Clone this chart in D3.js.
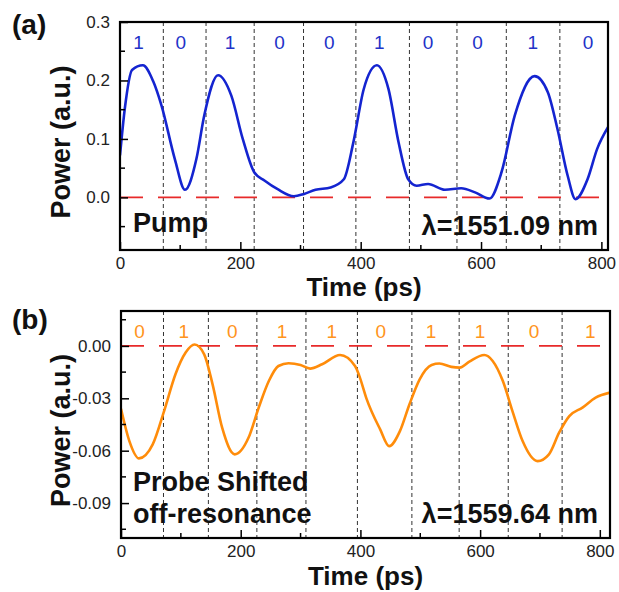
<!DOCTYPE html>
<html>
<head>
<meta charset="utf-8">
<script src="https://cdn.jsdelivr.net/npm/d3@7"></script>
<style>
  html, body { margin: 0; padding: 0; background: #ffffff; }
  svg { display: block; }
</style>
</head>
<body>
<svg id="chart" width="619" height="592"></svg>
<script>
// ---- Pump trace (panel a) ----
const pumpTime  = [0, 8, 20, 38, 55, 69, 91, 108, 127, 140, 163, 185, 204, 223, 240, 262, 289, 306, 325, 350, 372, 388, 405, 427, 446, 463, 479, 493, 512, 540, 567, 590, 614, 634, 656, 689, 711, 727, 744, 757, 777, 793, 811];
const pumpPower = [0.072, 0.152, 0.218, 0.226, 0.199, 0.157, 0.066, 0.013, 0.066, 0.140, 0.209, 0.174, 0.100, 0.043, 0.029, 0.014, 0.002, 0.006, 0.013, 0.017, 0.031, 0.095, 0.185, 0.226, 0.186, 0.094, 0.031, 0.020, 0.023, 0.013, 0.0155, 0.0086, -0.002, 0.043, 0.140, 0.2075, 0.180, 0.117, 0.037, -0.003, 0.031, 0.083, 0.120];
const pumpBits      = ["1", "0", "1", "0", "0", "1", "0", "0", "1", "0"];
const pumpBitCenters = [31, 101, 183, 265, 348, 431, 512, 594, 686, 778];
const pumpSlotEdges  = [72, 143, 223, 305, 392, 481, 560, 642, 731];
const pumpYTicks     = [0.0, 0.1, 0.2, 0.3];
const pumpYMinor     = [-0.05, 0.05, 0.15, 0.25];

// ---- Probe trace (panel b) ----
const probeTime  = [0, 14, 30, 53, 72, 91, 108, 123, 139, 153, 169, 190, 213, 230, 247, 263, 280, 300, 316, 336, 366, 391, 398, 410, 433, 448, 466, 482, 499, 519, 532, 552, 566, 582, 607, 621, 638, 654, 671, 696, 715, 732, 749, 771, 793, 817];
const probePower = [-0.036, -0.0545, -0.0644, -0.0564, -0.0373, -0.0162, -0.0038, 0.0008, -0.0048, -0.022, -0.0468, -0.0621, -0.0526, -0.0354, -0.0201, -0.0115, -0.0099, -0.0109, -0.013, -0.0105, -0.0052, -0.0115, -0.017, -0.030, -0.0478, -0.0574, -0.0488, -0.0334, -0.0191, -0.0109, -0.0101, -0.012, -0.0124, -0.009, -0.0052, -0.0086, -0.0201, -0.0373, -0.0545, -0.066, -0.0621, -0.0497, -0.0402, -0.0353, -0.0296, -0.0267];
const probeBits      = ["0", "1", "0", "1", "1", "0", "1", "1", "0", "1"];
const probeBitCenters = [31, 105, 186, 269, 352, 434, 518, 600, 690, 784];
const probeSlotEdges  = [71, 146, 227, 309, 395, 486, 565, 647, 737];
const probeYTicks     = [0.00, -0.03, -0.06, -0.09];
const probeYMinor     = [0.015, -0.015, -0.045, -0.075, -0.105];

// Shared time axis ticks
const timeTicks = [0, 200, 400, 600, 800];
const timeMinor = [100, 300, 500, 700];

const FONT = "'Liberation Sans', Arial, Helvetica, sans-serif";
const svg = d3.select("#chart");

const panels = [
  {
    id: "a", tag: "(a)", tagY: 34,
    box: { left: 120, right: 608, top: 22, bottom: 250 },
    xMax: 811, yDomain: [-0.09, 0.3],
    time: pumpTime, power: pumpPower,
    color: "#1424d0", bitColor: "#2232c8",
    bits: pumpBits, bitX: pumpBitCenters, edges: pumpSlotEdges,
    yTicks: pumpYTicks, yMinor: pumpYMinor, yFmt: d3.format(".1f"),
    notes: [
      { text: "Pump", x: 133, y: 232, anchor: "start" },
      { text: "λ=1551.09 nm", x: 598, y: 235, anchor: "end" }
    ],
    xTitleY: 296
  },
  {
    id: "b", tag: "(b)", tagY: 329,
    box: { left: 121, right: 610, top: 311, bottom: 538 },
    xMax: 817, yDomain: [-0.11, 0.02],
    time: probeTime, power: probePower,
    color: "#ff8c0a", bitColor: "#ff9420",
    bits: probeBits, bitX: probeBitCenters, edges: probeSlotEdges,
    yTicks: probeYTicks, yMinor: probeYMinor,
    yFmt: v => d3.format(".2f")(v).replace("\u2212", "-"),
    notes: [
      { text: "Probe Shifted", x: 133, y: 491, anchor: "start" },
      { text: "off-resonance", x: 133, y: 523, anchor: "start" },
      { text: "λ=1559.64 nm", x: 598, y: 523, anchor: "end" }
    ],
    xTitleY: 585
  }
];

panels.forEach(p => {
  const b = p.box;
  const x = d3.scaleLinear().domain([0, p.xMax]).range([b.left, b.right]);
  const y = d3.scaleLinear().domain(p.yDomain).range([b.bottom, b.top]);
  const g = svg.append("g").attr("class", "panel-" + p.id);

  g.append("clipPath").attr("id", "clip-" + p.id)
    .append("rect")
    .attr("x", b.left).attr("y", b.top)
    .attr("width", b.right - b.left).attr("height", b.bottom - b.top);

  // bit-slot boundaries
  g.append("g").selectAll("line").data(p.edges).join("line")
    .attr("x1", d => x(d)).attr("x2", d => x(d))
    .attr("y1", b.top).attr("y2", b.bottom)
    .attr("stroke", "#333").attr("stroke-width", 1)
    .attr("stroke-dasharray", "4,3");

  // zero reference
  g.append("line")
    .attr("x1", b.left).attr("x2", b.right)
    .attr("y1", y(0)).attr("y2", y(0))
    .attr("stroke", "#e82a2a").attr("stroke-width", 1.6)
    .attr("stroke-dasharray", "23,15");

  // trace
  const pts = p.time.map((t, i) => [t, p.power[i]]);
  g.append("path").datum(pts)
    .attr("clip-path", "url(#clip-" + p.id + ")")
    .attr("fill", "none")
    .attr("stroke", p.color).attr("stroke-width", 2.6)
    .attr("stroke-linejoin", "round")
    .attr("d", d3.line().x(d => x(d[0])).y(d => y(d[1])).curve(d3.curveMonotoneX));

  // bit labels
  g.append("g").selectAll("text").data(p.bits).join("text")
    .attr("x", (d, i) => x(p.bitX[i]))
    .attr("y", b.top + 27)
    .attr("text-anchor", "middle")
    .attr("font-family", FONT).attr("font-size", 19)
    .attr("fill", p.bitColor)
    .text(d => d);

  // x axis (ticks point inward)
  const xAxis = g.append("g").attr("transform", `translate(0,${b.bottom})`)
    .call(d3.axisBottom(x).tickValues(timeTicks).tickSize(-8).tickPadding(7).tickFormat(d3.format("d")));
  xAxis.append("g").selectAll("line").data(timeMinor).join("line")
    .attr("x1", d => x(d)).attr("x2", d => x(d)).attr("y1", 0).attr("y2", -5)
    .attr("stroke", "#000").attr("stroke-width", 1.5);

  // y axis
  const yAxis = g.append("g").attr("transform", `translate(${b.left},0)`)
    .call(d3.axisLeft(y).tickValues(p.yTicks).tickSize(-8).tickPadding(10).tickFormat(p.yFmt));
  yAxis.append("g").selectAll("line").data(p.yMinor).join("line")
    .attr("y1", d => y(d)).attr("y2", d => y(d)).attr("x1", 0).attr("x2", 5)
    .attr("stroke", "#000").attr("stroke-width", 1.5);

  [xAxis, yAxis].forEach(a => {
    a.select(".domain").remove();
    a.selectAll(".tick line").attr("stroke", "#000").attr("stroke-width", 1.5);
    a.selectAll(".tick text").attr("font-family", FONT).attr("font-size", 17).attr("fill", "#222");
  });

  // frame
  g.append("rect")
    .attr("x", b.left).attr("y", b.top)
    .attr("width", b.right - b.left).attr("height", b.bottom - b.top)
    .attr("fill", "none").attr("stroke", "#000").attr("stroke-width", 2.2);

  // annotations inside the plot
  g.append("g").selectAll("text").data(p.notes).join("text")
    .attr("x", d => d.x).attr("y", d => d.y)
    .attr("text-anchor", d => d.anchor)
    .attr("font-family", FONT).attr("font-size", 27).attr("font-weight", "bold")
    .attr("fill", "#111")
    .text(d => d.text);

  // axis titles
  g.append("text")
    .attr("x", (b.left + b.right) / 2).attr("y", p.xTitleY)
    .attr("text-anchor", "middle")
    .attr("font-family", FONT).attr("font-size", 26).attr("font-weight", "bold")
    .attr("fill", "#111")
    .text("Time (ps)");

  g.append("text")
    .attr("transform", `translate(70,${(b.top + b.bottom) / 2 + 6}) rotate(-90)`)
    .attr("text-anchor", "middle")
    .attr("font-family", FONT).attr("font-size", 27).attr("font-weight", "bold")
    .attr("fill", "#111")
    .text("Power (a.u.)");

  // panel tag
  g.append("text")
    .attr("x", 12).attr("y", p.tagY)
    .attr("font-family", FONT).attr("font-size", 28).attr("font-weight", "bold")
    .attr("fill", "#111")
    .text(p.tag);
});
</script>
</body>
</html>
